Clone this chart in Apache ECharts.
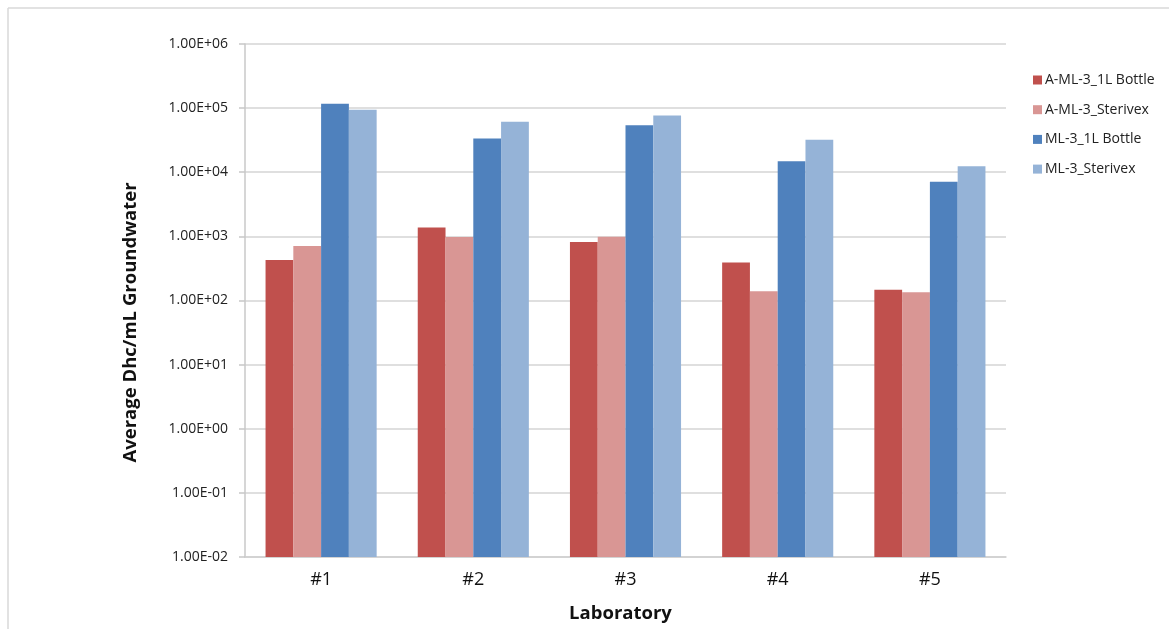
<!DOCTYPE html>
<html>
<head>
<meta charset="utf-8">
<script src="https://cdn.jsdelivr.net/npm/echarts@6/dist/echarts.min.js"></script>
<style>html,body{margin:0;padding:0;background:#fff}#c{width:1169px;height:629px}</style>
</head>
<body>
<div id="c"></div>
<script>
const categories = ['#1', '#2', '#3', '#4', '#5'];
const seriesNames = ['A-ML-3_1L Bottle', 'A-ML-3_Sterivex', 'ML-3_1L Bottle', 'ML-3_Sterivex'];
const aMl3Bottle = [430, 1370, 820, 390, 147];
const aMl3Sterivex = [710, 980, 990, 140, 135];
const ml3Bottle = [117000, 33600, 54300, 14800, 7140];
const ml3Sterivex = [94000, 61200, 76700, 32200, 12400];
const yTickLabels = ['1.00E-02', '1.00E-01', '1.00E+00', '1.00E+01', '1.00E+02', '1.00E+03', '1.00E+04', '1.00E+05', '1.00E+06'];
const axisMin = 0.01;
const axisMax = 1000000;
const colors = ['#C0504D', '#D99694', '#4F81BD', '#95B3D7'];

const values = [aMl3Bottle, aMl3Sterivex, ml3Bottle, ml3Sterivex];
const chart = echarts.init(document.getElementById('c'));

// On a log axis ECharts starts bars at 1; an invisible stacked base at the
// axis minimum makes each visible bar rise from the bottom of the plot.
const series = [];
seriesNames.forEach((n, i) => {
  series.push({
    name: '__base' + i,
    type: 'bar',
    stack: 's' + i,
    data: categories.map(() => axisMin),
    itemStyle: {color: 'rgba(0,0,0,0)'},
    barGap: '0%',
    barCategoryGap: '27%',
    silent: true
  });
  series.push({
    name: n,
    type: 'bar',
    stack: 's' + i,
    data: values[i],
    barGap: '0%',
    barCategoryGap: '27%',
    itemStyle: {color: colors[i]}
  });
});

chart.setOption({
  animation: false,
  backgroundColor: '#fff',
  color: colors,
  graphic: [
    {type: 'line', shape: {x1: 8, y1: 8, x2: 1169, y2: 8}, style: {stroke: '#d9d9d9', lineWidth: 1.5}},
    {type: 'line', shape: {x1: 8, y1: 8, x2: 8, y2: 629}, style: {stroke: '#d9d9d9', lineWidth: 1.5}}
  ],
  grid: {left: 245, right: 163, top: 44, bottom: 72, outerBoundsMode: 'none', containLabel: false},
  legend: {
    orient: 'vertical',
    left: 1028, top: 68,
    itemWidth: 9, itemHeight: 9, itemGap: 15.7,
    icon: 'rect',
    textStyle: {fontFamily: 'Open Sans', fontSize: 14, color: '#222', padding: [0, 0, 0, -2]},
    data: seriesNames
  },
  xAxis: {
    type: 'category',
    data: categories,
    name: 'Laboratory',
    nameLocation: 'middle',
    nameGap: 47,
    nameTextStyle: {fontFamily: 'Open Sans', fontSize: 18.5, fontWeight: 'bold', color: '#111', padding: [0, 10, 0, 0]},
    axisLine: {lineStyle: {color: '#d0d0d0', width: 1.5}},
    axisTick: {show: false},
    axisLabel: {fontFamily: 'Open Sans', fontSize: 18, color: '#111', margin: 14}
  },
  yAxis: {
    type: 'log',
    logBase: 10,
    min: axisMin, max: axisMax,
    name: 'Average Dhc/mL Groundwater',
    nameLocation: 'middle',
    nameGap: 105,
    nameRotate: 90,
    nameTextStyle: {fontFamily: 'Open Sans', fontSize: 18.5, fontWeight: 'bold', color: '#111', padding: [0, 44, 0, 0]},
    axisLine: {show: true, lineStyle: {color: '#c8c8c8', width: 1.5}},
    axisTick: {show: true, length: 6, lineStyle: {color: '#c8c8c8', width: 1.5}},
    splitLine: {lineStyle: {color: '#d4d4d4', width: 1.5}},
    axisLabel: {
      fontFamily: 'Open Sans', fontSize: 14, color: '#222', margin: 17,
      formatter: function (v) {
        const i = Math.round(Math.log10(v)) + 2;
        return yTickLabels[i] || '';
      }
    }
  },
  series: series
});
</script>
</body>
</html>
